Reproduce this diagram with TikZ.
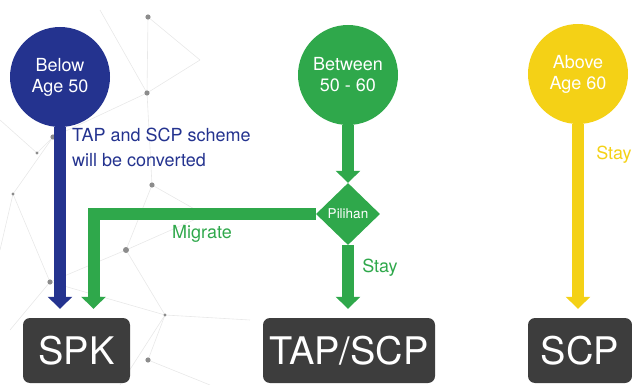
\documentclass[tikz,border=0pt]{standalone}
\usepackage{fontspec}
\setmainfont{TeX Gyre Heros}
\usetikzlibrary{arrows.meta, positioning, shapes.geometric, calc}
\definecolor{NavyLine}{HTML}{24338F}
\definecolor{GreenLine}{HTML}{2FA84B}
\definecolor{YellowLine}{HTML}{F4D116}
\definecolor{BoxFill}{HTML}{3D3D3D}
\colorlet{NetLine}{black!9}
\colorlet{NetDot}{black!45}

\begin{document}
\begin{tikzpicture}[
    x=1pt, y=-1pt,
    group/.style={
        circle, fill=#1, minimum size=100pt, inner sep=0pt,
        text=white, align=center, font=\fontsize{18}{21}\selectfont
    },
    result/.style={
        rectangle, rounded corners=7pt, fill=BoxFill,
        minimum height=65pt, minimum width=#1, inner sep=0pt,
        text=white, font=\fontsize{38}{40}\selectfont
    },
    choice/.style={
        diamond, fill=GreenLine, minimum width=64pt, minimum height=62pt,
        inner sep=0pt, text=white, font=\fontsize{13.5}{14}\selectfont
    },
    note/.style={text=#1, font=\fontsize{18}{25}\selectfont, align=left,
        inner sep=0pt},
    flow/.style={draw=#1, line width=12pt,
        -{Triangle[length=12pt, width=24pt]}, shorten >=9pt},
    node distance=8pt
]
\useasboundingbox (0,0) rectangle (632,385);

% ===================================================================
% BACKGROUND NETWORK
% ===================================================================
\foreach \xa/\ya/\xb/\yb in {148/17/147/93, 147/93/200/60, 148/17/200/60,
                   100/10/147/93, 53/137/147/93, 37/153/53/137,
                   53/137/13/194, 147/93/152/185, 152/185/205/215,
                   126/250/205/215, 152/185/126/250, 13/194/50/282,
                   50/282/126/250, 126/250/165/315, 50/282/165/315,
                   165/315/250/320, 165/315/148/360, 148/360/210/385,
                   10/330/50/282, 37/153/0/120, 13/194/0/250,
                   165/315/120/385}
    \draw[NetLine, line width=0.6pt] (\xa,\ya) -- (\xb,\yb);
\foreach \xp/\yp/\r in {148/17/2.6, 147/93/2.6, 53/137/2.6, 37/153/1.6,
                   152/185/2.6, 13/194/1.6, 126/250/3, 50/282/2.6,
                   165/315/1.6, 148/360/2.6}
    \fill[NetDot] (\xp,\yp) circle (\r pt);

% ===================================================================
% AGE GROUPS
% ===================================================================
\node[group=NavyLine]   (below)   at (60,77)  {Below\\Age 50};
\node[group=GreenLine]  (between) at (348,75) {Between\\50 - 60};
\node[group=YellowLine] (above)   at (578,74) {Above\\Age 60};

% choice point
\node[choice] (pilihan) at (348,214) {Pilihan};

% ===================================================================
% SCHEMES
% ===================================================================
\node[result=107pt] (spk) at (76.5,350.5) {SPK};
\node[result=172pt] (tapscp) at (349,350.5) {TAP/SCP};
\node[result=104pt] (scp) at (580,350.5) {SCP};

% ===================================================================
% FLOWS
% ===================================================================
\draw[flow=NavyLine] (below.south) -- (below |- spk.north);
\draw[flow=GreenLine, shorten >=0pt] (between.south) -- (pilihan.north);
\draw[flow=GreenLine] (pilihan.west) -| ([xshift=17pt]spk.north);
\draw[flow=GreenLine] (pilihan.south) -- (pilihan |- tapscp.north);
\draw[flow=YellowLine] (above.south) -- (above |- scp.north);

% labels
\node[note=NavyLine, anchor=north west] (convert) at (72,128)
    {TAP and SCP scheme\\will be converted};
\node[note=GreenLine] (migrate) at (202,234) {Migrate};
\node[note=GreenLine] (staytap) at (380,268) {Stay};
\node[note=YellowLine] (stayscp) at (614,155) {Stay};

\end{tikzpicture}
\end{document}
